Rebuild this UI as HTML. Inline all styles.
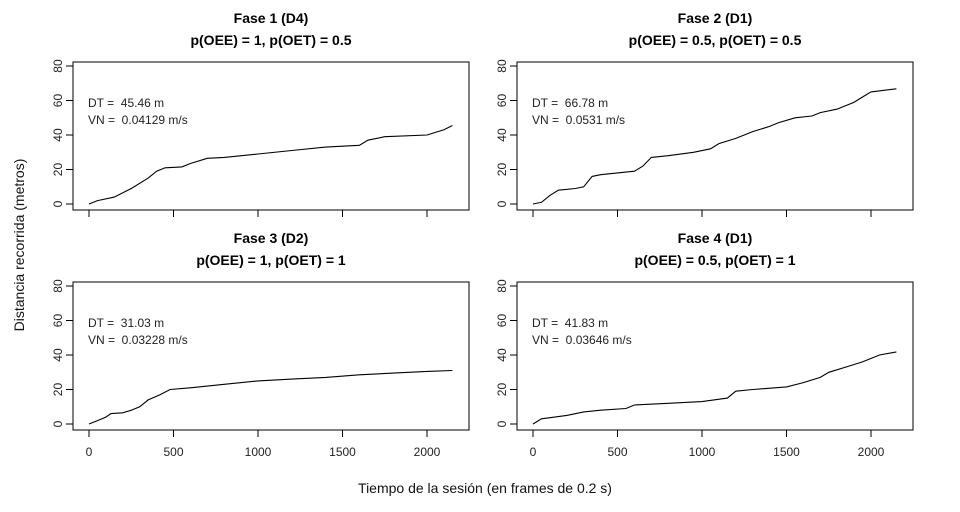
<!DOCTYPE html>
<html><head><meta charset="utf-8"><style>
body{margin:0;background:#fff;}
svg{display:block;font-family:"Liberation Sans",Arial,sans-serif;}
svg text{white-space:pre;}
</style></head><body>
<svg id="c" width="960" height="512"></svg>
<script>
const xTicks=[0,500,1000,1500,2000];
const yTicks=[0,20,40,60,80];
const titles1=["Fase 1 (D4)","Fase 2 (D1)","Fase 3 (D2)","Fase 4 (D1)"];
const titles2=["p(OEE) = 1, p(OET) = 0.5","p(OEE) = 0.5, p(OET) = 0.5","p(OEE) = 1, p(OET) = 1","p(OEE) = 0.5, p(OET) = 1"];
const dtLabels=["45.46 m","66.78 m","31.03 m","41.83 m"];
const vnLabels=["0.04129 m/s","0.0531 m/s","0.03228 m/s","0.03646 m/s"];
const t1=[0,50,150,250,350,400,450,550,600,700,800,1000,1200,1400,1600,1650,1750,2000,2100,2150];
const d1=[0,2,4,9,15,19,21,21.5,23.5,26.5,27,29,31,33,34,37,39,40,43,45.5];
const t2=[0,50,100,150,250,300,350,400,600,650,700,800,950,1050,1100,1200,1300,1400,1450,1550,1650,1700,1800,1900,1950,2000,2150];
const d2=[0,1,5,8,9,10,16,17,19,22,27,28,30,32,35,38,42,45,47,50,51,53,55,59,62,65,66.8];
const t3=[0,50,100,130,200,250,300,350,420,480,600,800,1000,1200,1400,1600,1800,2000,2150];
const d3=[0,2,4,6,6.5,8,10,14,17,20,21,23,25,26,27,28.5,29.5,30.5,31];
const t4=[0,50,200,300,400,550,600,800,1000,1150,1200,1300,1500,1600,1700,1750,1850,1950,2050,2150];
const d4=[0,3,5,7,8,9,11,12,13,15,19,20,21.5,24,27,30,33,36,40,41.8];
const series=[[t1,d1],[t2,d2],[t3,d3],[t4,d4]];
const NS="http://www.w3.org/2000/svg";
const svg=document.getElementById('c');
function mk(tag,attrs,parent){const e=document.createElementNS(NS,tag);for(const k in attrs)e.setAttribute(k,attrs[k]);(parent||svg).appendChild(e);return e;}
const panels=[{bx:73,by:62},{bx:517,by:62},{bx:73,by:282},{bx:517,by:282}];
panels.forEach((p,i)=>{
  const g=mk('g',{});
  
  
  const bw=396,bh=148;
  const xs=v=>p.bx+16+v*0.169;
  const ys=v=>p.by+142-v*1.725;
  const box=mk('rect',{x:p.bx,y:p.by,width:bw,height:bh,fill:'none',stroke:'#000','stroke-width':1},g);
  
  
  const cx=p.bx+bw/2;
  const tt=mk('text',{x:cx,y:p.by-39,'text-anchor':'middle','font-size':14,'font-weight':'bold'},g);
  tt.textContent=titles1[i];
  
  
  const ts=mk('text',{x:cx,y:p.by-17,'text-anchor':'middle','font-size':14,'font-weight':'bold'},g);
  ts.textContent=titles2[i];
  
  
  yTicks.forEach(v=>{
    mk('line',{x1:p.bx-7,x2:p.bx,y1:ys(v),y2:ys(v),stroke:'#000'},g);
    const lb=mk('text',{x:p.bx-15,y:ys(v),'text-anchor':'middle','font-size':12,fill:'#222',transform:`rotate(-90 ${p.bx-15} ${ys(v)})`,'dominant-baseline':'central'},g);
    lb.textContent=v;
    
    
  });
  xTicks.forEach(v=>{
    mk('line',{x1:xs(v),x2:xs(v),y1:p.by+bh,y2:p.by+bh+7,stroke:'#000'},g);
    if(i>=2){
      const lb=mk('text',{x:xs(v),y:p.by+bh+26,'text-anchor':'middle','font-size':12,fill:'#222'},g);
      lb.textContent=v;
      
      
    }
  });
  const [tx,dy]=series[i];
  let d='';
  tx.forEach((t,k)=>{d+=(k?'L':'M')+xs(t).toFixed(1)+' '+ys(dy[k]).toFixed(1);});
  const path=mk('path',{d:d,fill:'none',stroke:'#000','stroke-width':1.1},g);
  
  
  const a1=mk('text',{x:p.bx+15,y:p.by+45,'font-size':12,fill:'#222'},g);
  a1.textContent='DT =  '+dtLabels[i];
  
  
  const a2=mk('text',{x:p.bx+15,y:p.by+62,'font-size':12,fill:'#222'},g);
  a2.textContent='VN =  '+vnLabels[i];
  
  
});
const yl=mk('text',{x:24,y:245,'text-anchor':'middle','font-size':14,fill:'#111',transform:'rotate(-90 24 245)'});
yl.textContent='Distancia recorrida (metros)';


const xl=mk('text',{x:485,y:493,'text-anchor':'middle','font-size':14,fill:'#111'});
xl.textContent='Tiempo de la sesión (en frames de 0.2 s)';


</script>
</body></html>
